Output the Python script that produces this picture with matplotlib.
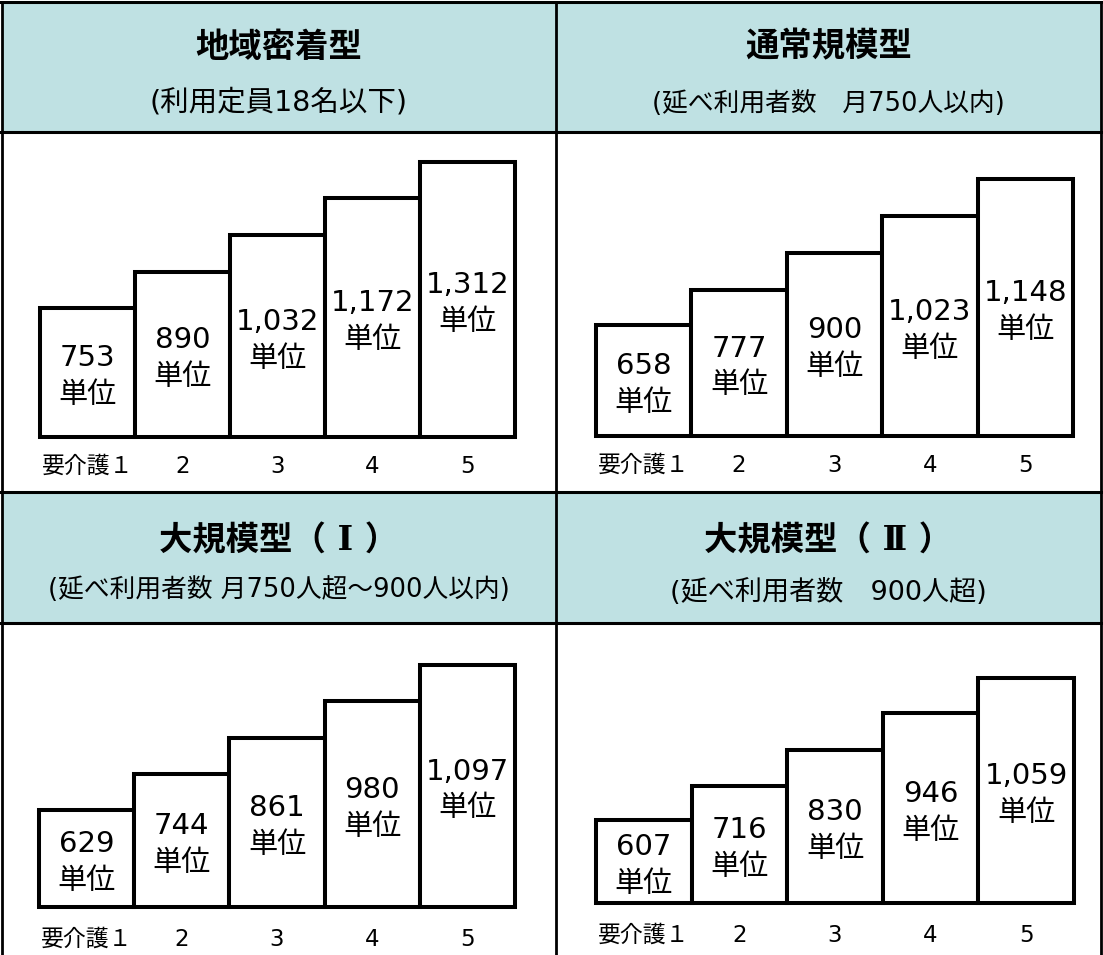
import matplotlib
matplotlib.use('Agg')
import matplotlib.pyplot as plt
from matplotlib.patches import Rectangle
from matplotlib.lines import Line2D

# data
titles = ['地域密着型', '通常規模型', '大規模型（ Ⅰ ）', '大規模型（ Ⅱ ）']
subtitles = ['(利用定員18名以下)', '(延べ利用者数　月750人以内)',
             '(延べ利用者数 月750人超～900人以内)', '(延べ利用者数　900人超)']
care_levels = ['要介護１', '2', '3', '4', '5']
chiiki = [753, 890, 1032, 1172, 1312]
tsujo = [658, 777, 900, 1023, 1148]
daikibo1 = [629, 744, 861, 980, 1097]
daikibo2 = [607, 716, 830, 946, 1059]
panels = [chiiki, tsujo, daikibo1, daikibo2]

W, H = 1103, 955
fig = plt.figure(figsize=(W/100, H/100), dpi=100)

def fx(x):
    return x / W
def fy(y):
    return 1 - y / H

lat = ['DejaVu Sans', 'Noto Sans CJK JP']
ttl = ['DejaVu Serif', 'Noto Sans CJK JP']   # serif roman numerals
header_col = '#bfe1e3'

cell_x = [(2, 556), (556, 1101)]
head_y = [(2, 132), (492, 623)]
# left, right, top, bottom in pixels
ax_box = [(40, 515, 142, 437), (596, 1073, 142, 436), (39, 515, 632, 907), (596, 1074, 632, 903)]
ylims = [(258, 1388), (286, 1273), (316, 1203), (342, 1205)]
title_y = [47, 47, 541, 541]
sub_y = [102, 104, 590, 592]
sub_size = [20.5, 18.5, 18.5, 19.5]
tick_pad = [13, 13, 15, 15]

for i in range(4):
    col = i % 2; row = i // 2
    x0, x1 = cell_x[col]; y0, y1 = head_y[row]
    fig.patches.append(Rectangle((fx(x0), fy(y1)), fx(x1) - fx(x0), fy(y0) - fy(y1),
                                 transform=fig.transFigure, facecolor=header_col, edgecolor='none', zorder=0))
    cx = fx((x0 + x1) / 2)
    fig.text(cx, fy(title_y[i]), titles[i], family=ttl, fontsize=24, weight='bold', ha='center', va='center')
    fig.text(cx, fy(sub_y[i]), subtitles[i], family=lat, fontsize=sub_size[i], ha='center', va='center')

    l, r, t, b = ax_box[i]
    ax = fig.add_axes([fx(l), fy(b), fx(r) - fx(l), fy(t) - fy(b)])
    ax.set_facecolor('none')
    vals = panels[i]
    base = ylims[i][0]
    ax.bar(range(5), [v - base for v in vals], bottom=base, width=1.0, color='white',
           edgecolor='black', linewidth=2.9, clip_on=False)
    for k, v in enumerate(vals):
        ax.annotate(f"{v:,}\n単位", (k, (base + v) / 2), xytext=(0, -3), textcoords='offset points',
                    family=lat, fontsize=21, ha='center', va='center', linespacing=1.4,
                    annotation_clip=False)
    ax.set_xlim(-0.5, 4.5)
    ax.set_ylim(*ylims[i])
    ax.set_xticks(range(5))
    ax.set_xticklabels(care_levels, family=lat, fontsize=16.5)
    ax.tick_params(axis='x', length=0, pad=tick_pad[i])
    ax.set_yticks([])
    for s in ax.spines.values():
        s.set_visible(False)

# grid lines
for y in [2, 132, 492, 623]:
    fig.lines.append(Line2D([0, 1], [fy(y), fy(y)], transform=fig.transFigure, color='black', linewidth=2.2))
for x in [2, 556, 1101]:
    fig.lines.append(Line2D([fx(x), fx(x)], [fy(2), 0], transform=fig.transFigure, color='black', linewidth=2.0))

fig.savefig('out.png', dpi=100)
